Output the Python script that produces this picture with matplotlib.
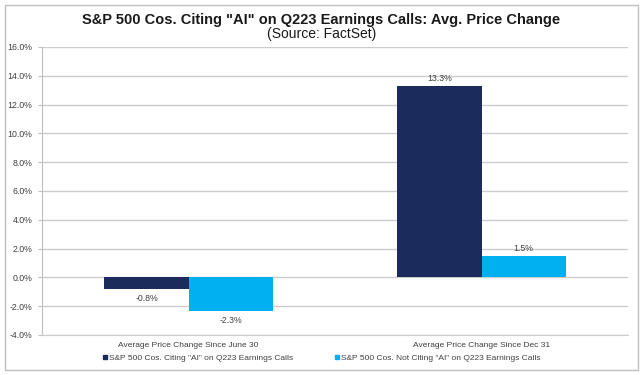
import numpy as np
import matplotlib.pyplot as plt
from matplotlib.patches import Rectangle
from matplotlib.lines import Line2D
from matplotlib.ticker import FuncFormatter

plt.rcParams['font.family'] = ['Liberation Sans', 'DejaVu Sans']

categories = ["Average Price Change Since June 30", "Average Price Change Since Dec 31"]
citing_ai = [-0.8, 13.3]
not_citing_ai = [-2.3, 1.5]
series_names = ['S&P 500 Cos. Citing "AI" on Q223 Earnings Calls',
                'S&P 500 Cos. Not Citing "AI" on Q223 Earnings Calls']
colors = ["#1a2b5c", "#00b0f0"]

W, H = 643, 375
fig = plt.figure(figsize=(W / 100, H / 100), dpi=100)
fig.patches.append(Rectangle((5 / W, 5 / H), 633 / W, 365 / H, transform=fig.transFigure,
                             fill=False, ec="#bfbfbf", lw=1))

ax = fig.add_axes([42 / W, 40 / H, 586 / W, 288 / H])
x = np.arange(len(categories))
bw = 0.287
b1 = ax.bar(x - bw / 2, citing_ai, bw, color=colors[0], zorder=3)
b2 = ax.bar(x + bw / 2, not_citing_ai, bw, color=colors[1], zorder=3)

for bars, vals in [(b1, citing_ai), (b2, not_citing_ai)]:
    for rect, v in zip(bars, vals):
        cx = rect.get_x() + rect.get_width() / 2
        if v >= 0:
            ax.annotate(f"{v:.1f}%", (cx, v), xytext=(0, 2), textcoords="offset points",
                        ha="center", va="bottom", fontsize=6.3, color="#404040")
        else:
            ax.annotate(f"{v:.1f}%", (cx, v), xytext=(0, -4), textcoords="offset points",
                        ha="center", va="top", fontsize=6.3, color="#404040")

ax.set_xlim(-0.5, 1.5)
ax.set_ylim(-4, 16)
ax.set_yticks(np.arange(-4, 17, 2))
ax.yaxis.set_major_formatter(FuncFormatter(lambda v, p: f"{v:.1f}%"))
ax.set_xticks(x)
ax.set_xticklabels(categories)
ax.tick_params(axis="x", length=0, labelsize=6, labelcolor="#404040", pad=5)
ax.tick_params(axis="y", length=3, color="#bfbfbf", labelsize=6.3, labelcolor="#404040", pad=4)
ax.grid(axis="y", color="#cccccc", lw=1, zorder=0)
for s in ["top", "right"]:
    ax.spines[s].set_visible(False)
ax.spines["left"].set_color("#bfbfbf")
ax.spines["bottom"].set_color("#cccccc")

fig.text(0.5, 355 / H, 'S&P 500 Cos. Citing "AI" on Q223 Earnings Calls: Avg. Price Change',
         ha="center", va="center", fontsize=10.5, fontweight="bold", color="#1a1a1a")
fig.text(0.5, 341 / H, "(Source: FactSet)", ha="center", va="center", fontsize=10, color="#1a1a1a")

handles = [Line2D([], [], ls="none", marker="s", markersize=3.5, color=c) for c in colors]
fig.legend(handles, series_names, loc="center", bbox_to_anchor=(0.5, 17 / H), ncol=2,
           frameon=False, fontsize=6, handlelength=0.6, handletextpad=0.2, columnspacing=5,
           labelcolor="#404040")

fig.savefig("out.png", dpi=100)
